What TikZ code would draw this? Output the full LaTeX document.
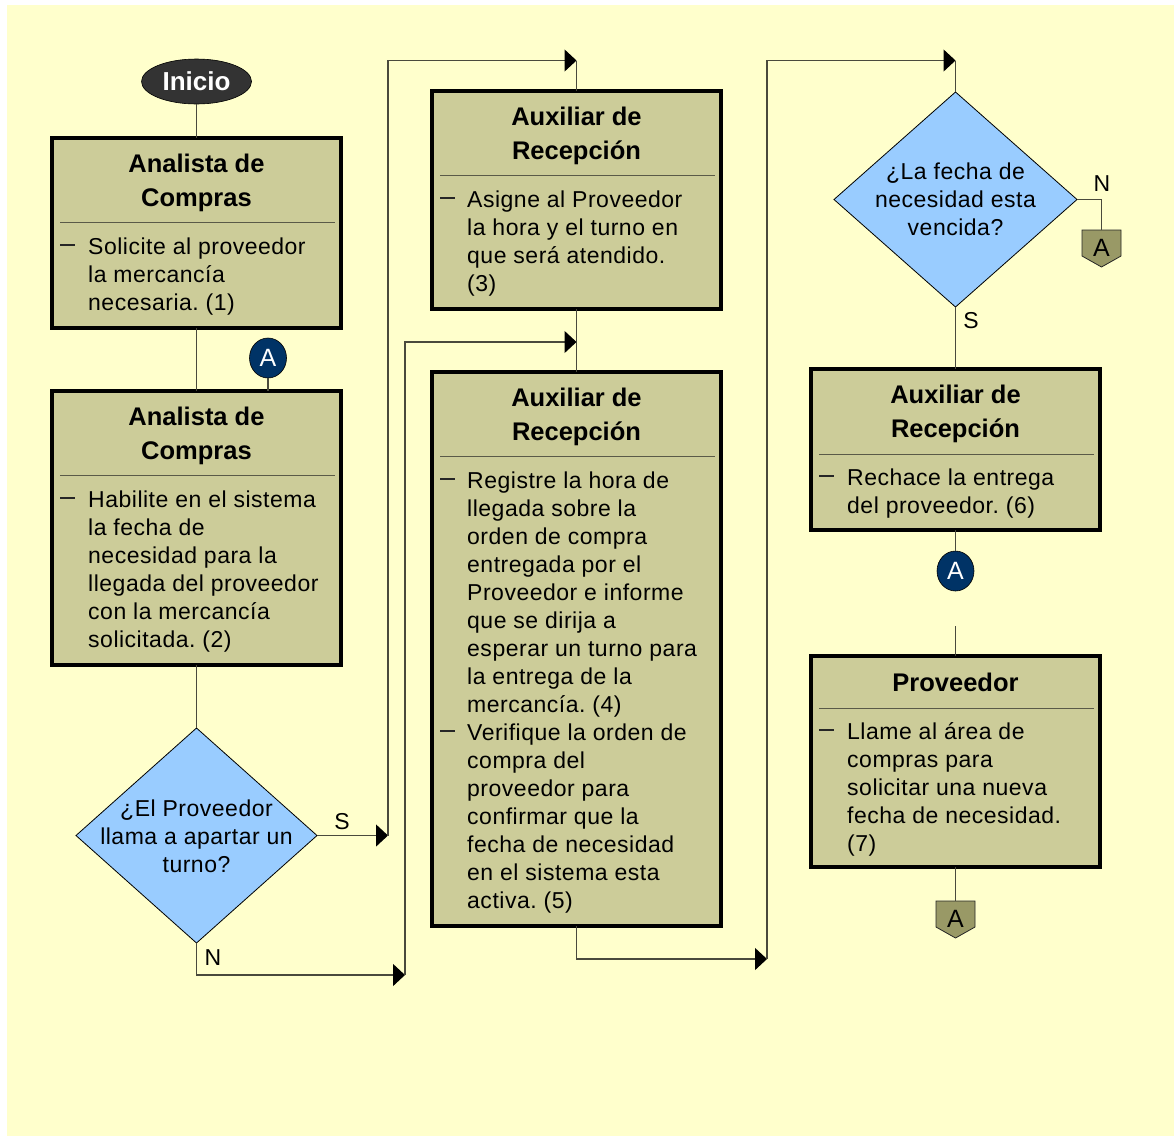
\documentclass[tikz,border=0pt]{standalone}
\usepackage{fontspec}
\setmainfont{Liberation Sans}
\newfontfamily\bodyfont[LetterSpace=2.2]{Liberation Sans}
\usetikzlibrary{arrows.meta,shapes.geometric}
\frenchspacing

\definecolor{bgyellow}{HTML}{FFFFCC}
\definecolor{boxfill}{HTML}{CCCC99}
\definecolor{decfill}{HTML}{99CCFF}
\definecolor{navy}{HTML}{003366}
\definecolor{offpage}{HTML}{999966}
\definecolor{startfill}{HTML}{333333}
\definecolor{wire}{HTML}{4A4A3C}
\definecolor{sepline}{HTML}{5A5A48}

\tikzset{
  procbox/.style={rectangle, draw=black, line width=3.5pt, fill=boxfill,
    inner sep=0pt, outer sep=0pt, anchor=north west},
  boxtitle/.style={anchor=base, inner sep=0pt,
    font=\fontsize{25.5}{34}\selectfont\bfseries},
  boxbody/.style={anchor=base west, inner sep=0pt,
    font=\bodyfont\fontsize{23}{28}\selectfont},
  dectext/.style={anchor=base, inner sep=0pt,
    font=\bodyfont\fontsize{23}{28}\selectfont},
  seprule/.style={draw=sepline, line width=1pt},
  bullet/.style={draw=black!85, line width=1.1pt},
  decision/.style={diamond, draw=black, line width=0.8pt, fill=decfill,
    inner sep=0pt, outer sep=0pt},
  wire/.style={draw=wire, line width=1.2pt},
  flow/.style={wire, -{Triangle[length=12pt,width=22pt,color=black]}},
  branch/.style={inner sep=0pt, font=\bodyfont\fontsize{23}{28}\selectfont},
  onpage/.style={ellipse, draw=black, line width=0.6pt, fill=navy,
    text=white, minimum width=37pt, minimum height=40pt, inner sep=0pt,
    outer sep=0pt, font=\fontsize{25}{25}\selectfont},
  offpg/.style={draw=black!85, line width=0.8pt, fill=offpage},
  offpgtext/.style={anchor=base, inner sep=0pt, font=\fontsize{25}{25}\selectfont},
}

\begin{document}
\begin{tikzpicture}[x=1pt,y=-1pt]
  % page and canvas
  \useasboundingbox (0,0) rectangle (1174,1136);
  \fill[white] (0,0) rectangle (1174,1136);
  \fill[bgyellow] (7,5) rectangle (1174,1136);

  % ---------- start ----------
  \node[ellipse, fill=startfill, draw=black, line width=0.6pt,
        minimum width=110pt, minimum height=45pt, inner sep=0pt, outer sep=0pt,
        text=white, font=\fontsize{26}{26}\selectfont\bfseries]
        (inicio) at (196.5,81.5) {Inicio};

  % ---------- box 1 ----------
  \node[procbox, minimum width=289pt, minimum height=190pt] (b1) at (52,138) {};
  \node[boxtitle] (b1t) at (196.5,172.5) {\parbox[t]{280pt}{\centering Analista de\\Compras}};
  \draw[seprule] (60,222.3) -- (335,222.3);
  \draw[bullet] (60,245) -- (75,245);
  \node[boxbody] (b1x) at (88,254) {\parbox[t]{300pt}{\raggedright
    Solicite al proveedor\\la mercancía\\necesaria. (1)}};

  % ---------- box 2 ----------
  \node[procbox, minimum width=289pt, minimum height=274pt] (b2) at (52,391) {};
  \node[boxtitle] (b2t) at (196.5,425.5) {\parbox[t]{280pt}{\centering Analista de\\Compras}};
  \draw[seprule] (60,475.3) -- (335,475.3);
  \draw[bullet] (60,498) -- (75,498);
  \node[boxbody] (b2x) at (88,507) {\parbox[t]{300pt}{\raggedright
    Habilite en el sistema\\la fecha de\\necesidad para la\\llegada del proveedor\\con la mercancía\\solicitada. (2)}};

  % ---------- box 3 ----------
  \node[procbox, minimum width=289pt, minimum height=218pt] (b3) at (432,91) {};
  \node[boxtitle] (b3t) at (576.5,125.5) {\parbox[t]{280pt}{\centering Auxiliar de\\Recepción}};
  \draw[seprule] (440,175.3) -- (715,175.3);
  \draw[bullet] (440,198) -- (455,198);
  \node[boxbody] (b3x) at (467,207) {\parbox[t]{300pt}{\raggedright
    Asigne al Proveedor\\la hora y el turno en\\que será atendido.\\(3)}};

  % ---------- box 4 ----------
  \node[procbox, minimum width=289pt, minimum height=554pt] (b4) at (432,372) {};
  \node[boxtitle] (b4t) at (576.5,406.5) {\parbox[t]{280pt}{\centering Auxiliar de\\Recepción}};
  \draw[seprule] (440,456.3) -- (715,456.3);
  \draw[bullet] (440,479) -- (455,479);
  \node[boxbody] (b4x) at (467,488) {\parbox[t]{300pt}{\raggedright
    Registre la hora de\\llegada sobre la\\orden de compra\\entregada por el\\Proveedor e informe\\que se dirija a\\esperar un turno para\\la entrega de la\\mercancía. (4)}};
  \draw[bullet] (440,731) -- (455,731);
  \node[boxbody] (b4y) at (467,740) {\parbox[t]{300pt}{\raggedright
    Verifique la orden de\\compra del\\proveedor para\\confirmar que la\\fecha de necesidad\\en el sistema esta\\activa. (5)}};

  % ---------- box 5 ----------
  \node[procbox, minimum width=289pt, minimum height=161pt] (b5) at (811,369) {};
  \node[boxtitle] (b5t) at (955.5,403.5) {\parbox[t]{280pt}{\centering Auxiliar de\\Recepción}};
  \draw[seprule] (819,454) -- (1094,454);
  \draw[bullet] (819,476) -- (834,476);
  \node[boxbody] (b5x) at (847,485) {\parbox[t]{300pt}{\raggedright
    Rechace la entrega\\del proveedor. (6)}};

  % ---------- box 6 ----------
  \node[procbox, minimum width=289pt, minimum height=211pt] (b6) at (811,656) {};
  \node[boxtitle] (b6t) at (955.5,691) {\parbox[t]{280pt}{\centering Proveedor}};
  \draw[seprule] (819,708) -- (1094,708);
  \draw[bullet] (819,730) -- (834,730);
  \node[boxbody] (b6x) at (847,739) {\parbox[t]{300pt}{\raggedright
    Llame al área de\\compras para\\solicitar una nueva\\fecha de necesidad.\\(7)}};

  % ---------- decisions ----------
  \node[decision, minimum width=241pt, minimum height=215pt] (d1) at (196.5,835.5) {};
  \node[dectext] (d1t) at (196.5,816) {\parbox[t]{230pt}{\centering
    ¿El Proveedor\\llama a apartar un\\turno?}};

  \node[decision, minimum width=243pt, minimum height=215pt] (d2) at (955.5,199.5) {};
  \node[dectext] (d2t) at (955.5,179) {\parbox[t]{230pt}{\centering
    ¿La fecha de\\necesidad esta\\vencida?}};

  % ---------- on-page connectors ----------
  \node[onpage] (c1) at (268,358) {A};
  \node[onpage] (c2) at (955.5,571) {A};

  % ---------- off-page connectors ----------
  \coordinate (p1) at (1101.5,230);
  \draw[offpg] (p1) ++(-19.5,0) -- ++(39,0) -- ++(0,26) -- ++(-19.5,11) -- ++(-19.5,-11) -- cycle;
  \node[offpgtext] (p1t) at (1101.5,256) {A};
  \coordinate (p2) at (955.5,901);
  \draw[offpg] (p2) ++(-19.5,0) -- ++(39,0) -- ++(0,26) -- ++(-19.5,11) -- ++(-19.5,-11) -- cycle;
  \node[offpgtext] (p2t) at (955.5,927) {A};

  % ---------- routing points ----------
  \coordinate (sA) at (388,835.5);
  \coordinate (tA) at (576.5,60.5);
  \coordinate (nA) at (405,975);
  \coordinate (tB) at (576.5,342);
  \coordinate (nB) at (767,959);
  \coordinate (tC) at (955.5,60.5);
  \coordinate (nC) at (1101.5,199.5);
  \coordinate (gap) at (955.5,626);

  % ---------- connectors ----------
  \draw[wire] (inicio) -- (b1);
  \draw[wire] (b1) -- (b2);
  \draw[wire] (c1) -- (c1 |- b2.north);
  \draw[wire] (b2) -- (d1);
  \draw[flow] (d1.east) -- (sA);
  \draw[flow] (sA) |- (tA);
  \draw[wire] (tA) -- (b3);
  \draw[flow] (d1.south) |- (nA);
  \draw[flow] (nA) |- (tB);
  \draw[wire] (b3) -- (b4);
  \draw[flow] (b4.south) |- (nB);
  \draw[flow] (nB) |- (tC);
  \draw[wire] (tC) -- (d2);
  \draw[wire] (d2.east) -- (nC) -- (p1);
  \draw[wire] (d2) -- (b5);
  \draw[wire] (b5) -- (c2);
  \draw[wire] (gap) -- (b6);
  \draw[wire] (b6) -- (p2);

  % ---------- branch labels ----------
  \node[branch] (lS1) at (342,821.5) {S};
  \node[branch] (lN1) at (213,958) {N};
  \node[branch] (lN2) at (1102,184) {N};
  \node[branch] (lS2) at (971,321) {S};
\end{tikzpicture}
\end{document}
